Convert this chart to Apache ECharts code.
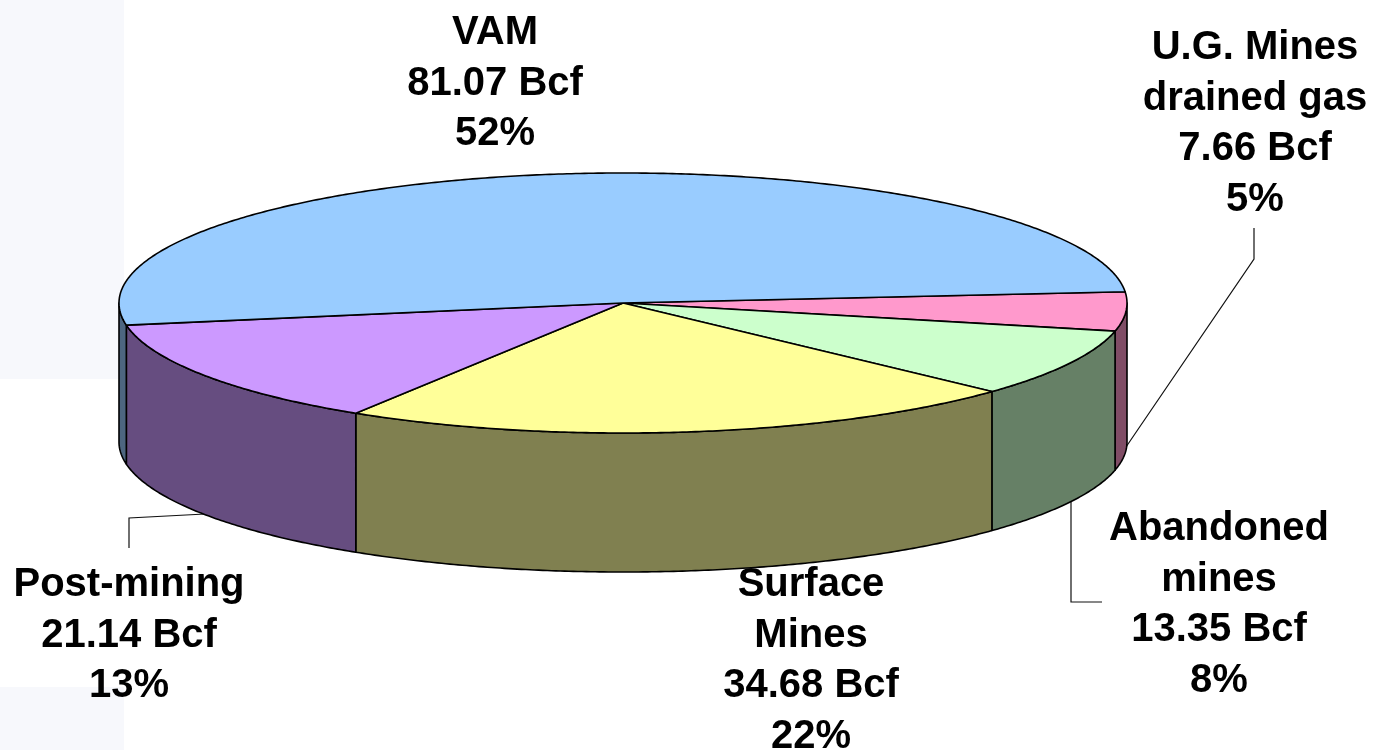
<!DOCTYPE html>
<html>
<head>
<meta charset="utf-8">
<title>Methane sources</title>
<style>
  html, body { margin: 0; padding: 0; background: #fff; }
  #main { width: 1373px; height: 750px; }
</style>
<script src="https://cdn.jsdelivr.net/npm/echarts@6/dist/echarts.min.js"></script>
</head>
<body>
<div id="main"></div>
<script>
// order goes clockwise on screen, starting at the right edge
const categories = ['U.G. Mines\ndrained gas', 'Abandoned\nmines', 'Surface\nMines', 'Post-mining', 'VAM'];
const bcfValues = [7.66, 13.35, 34.68, 21.14, 81.07];
const percentLabels = ['5%', '8%', '22%', '13%', '52%'];
const topColors = ['#ff99cc', '#ccffcc', '#ffff99', '#cc99ff', '#99ccff'];
const sideColors = ['#804d66', '#668066', '#808050', '#664d80', '#4d6680'];

// pie geometry
const cx = 623, cy = 303, rx = 504, ry = 130, depth = 139;
const startDeg = -4.95;

// label centres (x, y of the first line)
const labelPos = [[1255, 48], [1219, 529], [811, 585], [129, 585], [495, 33]];
const lineHeight = 50.5;

const total = bcfValues.reduce((a, b) => a + b, 0);
const slices = [];
let acc = startDeg;
bcfValues.forEach(v => {
  const sweep = v / total * 360;
  slices.push([acc, acc + sweep]);
  acc += sweep;
});

function rimPoint(deg, drop) {
  const t = deg * Math.PI / 180;
  return [cx + rx * Math.cos(t), cy + ry * Math.sin(t) + drop];
}

function arcPoints(from, to, drop) {
  const pts = [];
  const n = Math.max(2, Math.ceil(Math.abs(to - from) * 2));
  for (let i = 0; i <= n; i++) {
    pts.push(rimPoint(from + (to - from) * i / n, drop));
  }
  return pts;
}

// only the front half of the rim (0..180 deg) shows a wall
function wallRanges(a, b) {
  const out = [];
  [[0, 180], [360, 540]].forEach(r => {
    const from = Math.max(a, r[0]);
    const to = Math.min(b, r[1]);
    if (to > from) out.push([from, to]);
  });
  return out;
}

function renderWall(params) {
  const i = params.dataIndex;
  const children = wallRanges(slices[i][0], slices[i][1]).map(r => ({
    type: 'polygon',
    shape: { points: arcPoints(r[0], r[1], 0).concat(arcPoints(r[1], r[0], depth)) },
    style: { fill: sideColors[i], stroke: '#000', lineWidth: 1.6, lineJoin: 'round' }
  }));
  return { type: 'group', children: children };
}

function renderTop(params) {
  const i = params.dataIndex;
  return {
    type: 'polygon',
    shape: { points: [[cx, cy]].concat(arcPoints(slices[i][0], slices[i][1], 0)) },
    style: { fill: topColors[i], stroke: '#000', lineWidth: 1.6, lineJoin: 'round' }
  };
}

function leader(points) {
  return {
    type: 'polyline',
    z: 1,
    shape: { points: points },
    style: { fill: 'none', stroke: '#111', lineWidth: 1.2 }
  };
}

function band(y, h) {
  return {
    type: 'rect',
    z: -10,
    shape: { x: 0, y: y, width: 124, height: h },
    style: { fill: '#f7f8fc' }
  };
}

const labelTexts = categories.map((c, i) => c + '\n' + bcfValues[i].toFixed(2) + ' Bcf\n' + percentLabels[i]);

const myChart = echarts.init(document.getElementById('main'), null, { renderer: 'canvas' });
myChart.setOption({
  animation: false,
  backgroundColor: '#fff',
  series: [
    { type: 'custom', coordinateSystem: 'none', z: 2, renderItem: renderWall, data: bcfValues, silent: true },
    { type: 'custom', coordinateSystem: 'none', z: 3, renderItem: renderTop, data: bcfValues, silent: true }
  ],
  graphic: [
    band(0, 379),
    band(687, 63),
    leader([[1254, 228], [1254, 259], [1126, 447]]),
    leader([[1071, 500], [1071, 602], [1102, 602]]),
    leader([[129, 548], [129, 518], [205, 514]])
  ].concat(labelTexts.map((t, i) => ({
    type: 'text',
    z: 5,
    x: labelPos[i][0],
    y: labelPos[i][1] - lineHeight / 2,
    style: {
      text: t,
      fill: '#000',
      font: 'bold 40px "Liberation Sans", Arial, sans-serif',
      lineHeight: lineHeight,
      align: 'center',
      verticalAlign: 'top'
    }
  })))
});
</script>
</body>
</html>
